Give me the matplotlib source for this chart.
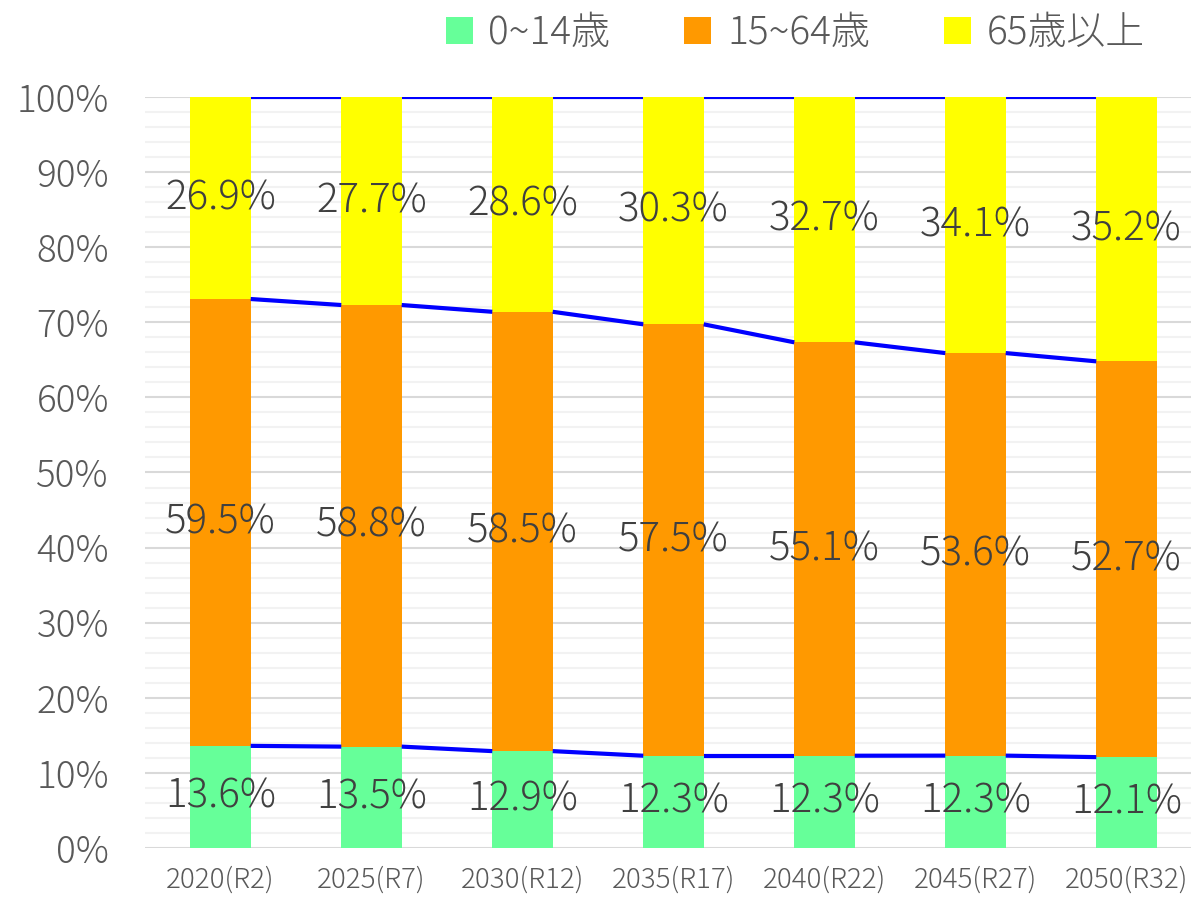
"""
Population share by age group (100% stacked bars with series lines).
"""
import matplotlib
matplotlib.use("Agg")
import matplotlib.pyplot as plt
from matplotlib.patches import Patch
from matplotlib.ticker import MultipleLocator, FuncFormatter

plt.rcParams["font.family"] = ["Noto Sans CJK JP", "DejaVu Sans"]
plt.rcParams["font.weight"] = "light"

years = ["2020(R2)", "2025(R7)", "2030(R12)", "2035(R17)", "2040(R22)", "2045(R27)", "2050(R32)"]
age_0_14 = [13.6, 13.5, 12.9, 12.3, 12.3, 12.3, 12.1]
age_15_64 = [59.5, 58.8, 58.5, 57.5, 55.1, 53.6, 52.7]
age_65_plus = [26.9, 27.7, 28.6, 30.3, 32.7, 34.1, 35.2]
series_names = ["0~14歳", "15~64歳", "65歳以上"]

COLORS = ["#66FF99", "#FF9900", "#FFFF00"]
LINE_COLOR = "#0000FF"
LABEL_COLOR = "#404040"
TICK_COLOR = "#595959"
BAR_WIDTH = 0.4


def main():
    fig = plt.figure(figsize=(11.91, 8.97), dpi=100)
    ax = fig.add_axes([145 / 1191, 49 / 897, 1057 / 1191, 751 / 897])

    series = [age_0_14, age_15_64, age_65_plus]
    totals = [sum(vals) for vals in zip(*series)]
    x = list(range(len(years)))

    bottoms = [0.0] * len(years)
    tops_per_series = []
    for vals, color in zip(series, COLORS):
        shares = [v / t for v, t in zip(vals, totals)]
        ax.bar(x, shares, BAR_WIDTH, bottom=bottoms, color=color, zorder=2)
        for i, (v, s, b) in enumerate(zip(vals, shares, bottoms)):
            ax.text(i, b + s / 2, f"{v:.1f}%", ha="center", va="center",
                    fontsize=29, color=LABEL_COLOR, zorder=4)
        bottoms = [b + s for b, s in zip(bottoms, shares)]
        tops_per_series.append(list(bottoms))

    # series lines between neighbouring bars
    half = BAR_WIDTH / 2
    for tops in tops_per_series:
        for i in range(len(years) - 1):
            ax.plot([i + half, i + 1 - half], [tops[i], tops[i + 1]],
                    color=LINE_COLOR, linewidth=3, solid_capstyle="butt", zorder=3)

    ax.set_xlim(-0.5, len(years) - 0.5)
    ax.set_ylim(0, 1)
    ax.yaxis.set_major_locator(MultipleLocator(0.1))
    ax.yaxis.set_minor_locator(MultipleLocator(0.02))
    ax.yaxis.set_major_formatter(FuncFormatter(lambda v, _: f"{v * 100:.0f}%"))
    ax.grid(axis="y", which="minor", color="#F2F2F2", linewidth=1.5, zorder=0)
    ax.grid(axis="y", which="major", color="#D9D9D9", linewidth=1.5, zorder=1)
    ax.set_axisbelow(True)

    ax.set_xticks(x)
    ax.set_xticklabels(years)
    ax.tick_params(axis="x", length=0, pad=13, labelsize=20, labelcolor=TICK_COLOR)
    ax.tick_params(axis="y", which="both", length=0, pad=26, labelsize=26.5, labelcolor=TICK_COLOR)
    for spine in ax.spines.values():
        spine.set_visible(False)

    handles = [Patch(facecolor=c, edgecolor="none") for c in COLORS]
    fig.legend(handles, series_names, loc="center", bbox_to_anchor=(0.6675, 0.963),
               ncol=3, frameon=False, fontsize=28, labelcolor=TICK_COLOR,
               handlelength=0.7, handleheight=0.7, handletextpad=0.4, columnspacing=1.9)

    fig.savefig("out.png", dpi=100)
    plt.close(fig)


if __name__ == "__main__":
    main()
